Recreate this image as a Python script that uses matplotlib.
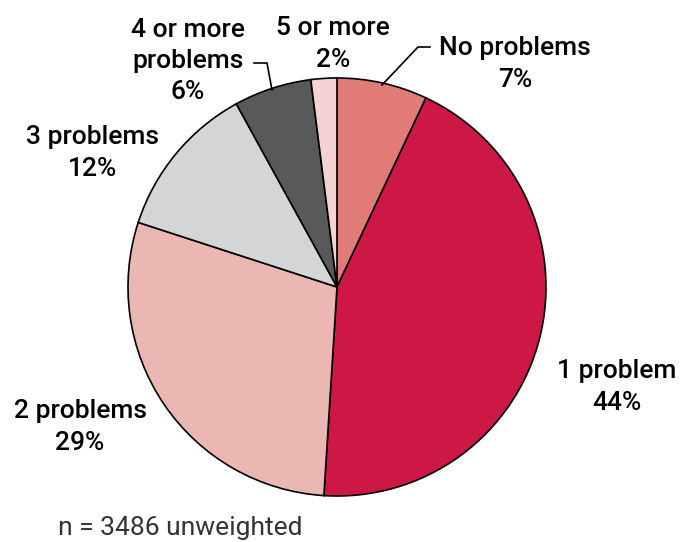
import matplotlib.pyplot as plt

# Number of problems reported (share of respondents)
categories = ['No problems', '1 problem', '2 problems', '3 problems',
              '4 or more\nproblems', '5 or more']
shares = [7, 44, 29, 12, 6, 2]
colors = ['#E07B78', '#CD1745', '#EBB7B2', '#D4D5D7', '#58595B', '#F4D4D2']
note = 'n = 3486 unweighted'

# label centres in pixels of the 683x542 picture
label_px = [(515, 64), (617, 387), (80, 427), (92, 153), (188, 61), (333, 44)]

W, H = 683, 542
cx, cy, r = 337, 287, 209

plt.rcParams['font.family'] = ['Roboto', 'DejaVu Sans']

fig = plt.figure(figsize=(W / 100, H / 100), dpi=100)
ax = fig.add_axes([(cx - r) / W, (H - cy - r) / H, 2 * r / W, 2 * r / H])
ax.pie(shares, colors=colors, startangle=90, counterclock=False,
       wedgeprops=dict(edgecolor='black', linewidth=1.2))
ax.set_xlim(-1, 1)
ax.set_ylim(-1, 1)
ax.set_aspect('equal')
ax.axis('off')


def to_data(px, py):
    return (px - cx) / r, (cy - py) / r


for cat, val, (px, py) in zip(categories, shares, label_px):
    x, y = to_data(px, py)
    ax.text(x, y, f'{cat}\n{val}%', ha='center', va='center', fontsize=19,
            fontweight='medium', linespacing=1.38, clip_on=False)

# leader lines
ln = [to_data(*p) for p in [(382, 85), (418, 47), (430, 47)]]
ax.plot([p[0] for p in ln], [p[1] for p in ln], color='black', lw=1.2, clip_on=False)
ln = [to_data(*p) for p in [(272, 90), (267, 63), (254, 63)]]
ax.plot([p[0] for p in ln], [p[1] for p in ln], color='black', lw=1.2, clip_on=False)

fig.text(58 / W, 1 - 528 / H, note, ha='left', va='center', fontsize=19,
         color='#333333')

fig.savefig('out.png', dpi=100)
